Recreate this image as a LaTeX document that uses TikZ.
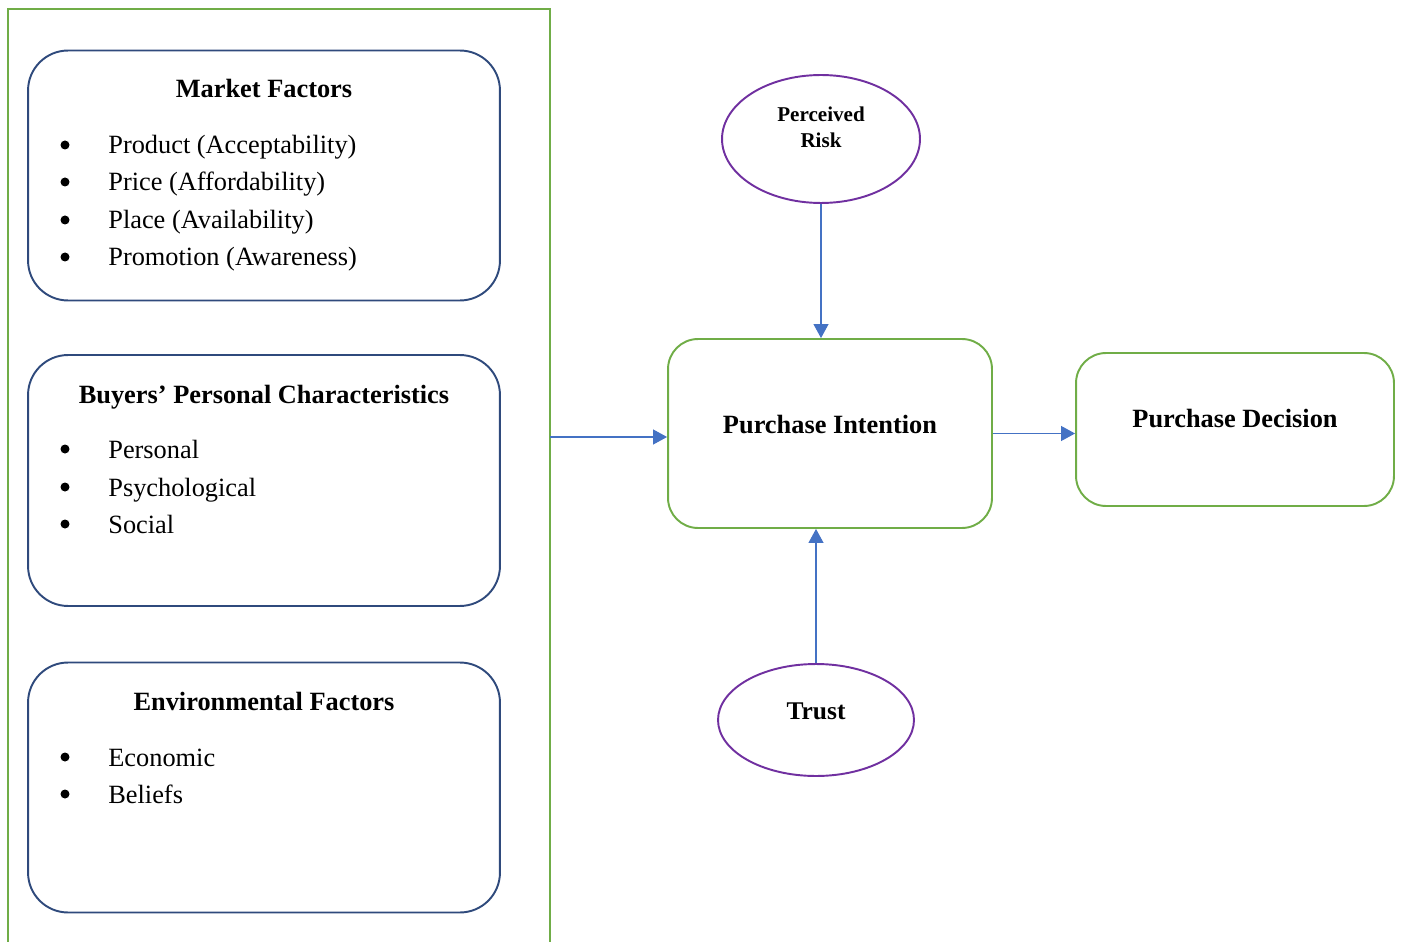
\documentclass[tikz,border=0pt]{standalone}
\usepackage{fontspec}
\setmainfont{Liberation Serif}
\usetikzlibrary{arrows.meta,shapes.geometric}

\definecolor{framegreen}{HTML}{70AD47}
\definecolor{boxnavy}{HTML}{2F4A7C}
\definecolor{riskpurple}{HTML}{7030A0}
\definecolor{linkblue}{HTML}{4472C4}

\begin{document}
\begin{tikzpicture}[
  x=0.02cm, y=-0.02cm,
  frame/.style={draw=framegreen, line width=1.1pt},
  factorbox/.style={rectangle, rounded corners=0.8cm, draw=boxnavy, line width=1.1pt,
    minimum width=9.44cm, minimum height=5cm, inner sep=0pt},
  mainbox/.style={rectangle, rounded corners=0.6cm, draw=framegreen, line width=1.1pt, inner sep=0pt},
  moderator/.style={ellipse, draw=riskpurple, line width=1.1pt, inner sep=0pt},
  boxtitle/.style={font=\fontsize{15}{18}\selectfont\bfseries, anchor=base, inner sep=0pt},
  bullet/.style={circle, fill=black, inner sep=0pt, minimum size=0.18cm},
  item/.style={font=\fontsize{15}{18}\selectfont, anchor=base west, inner sep=0pt},
  link/.style={draw=linkblue, line width=0.6pt, -{Triangle[length=2.8mm, width=3mm]}}
]
  \useasboundingbox (0,0) rectangle (1402,942);

  % Rahmen links
  \draw[frame] (8,942) -- (8,9) -- (550,9) -- (550,942);
  \coordinate (fout) at (550,437);

  % Faktoren
  \node[factorbox] (market) at (264,175.5) {};
  \node[boxtitle] (market-t) at (264,98) {Market Factors};
  \node[bullet] (m1b) at (65,145) {};
  \node[item]   (m1)  at (108,154) {Product (Acceptability)};
  \node[bullet] (m2b) at (65,182) {};
  \node[item]   (m2)  at (108,191) {Price (Affordability)};
  \node[bullet] (m3b) at (65,220) {};
  \node[item]   (m3)  at (108,229) {Place (Availability)};
  \node[bullet] (m4b) at (65,257) {};
  \node[item]   (m4)  at (108,266) {Promotion (Awareness)};

  \node[factorbox, minimum height=5.02cm] (buyers) at (264,480.5) {};
  \node[boxtitle] (buyers-t) at (264,403) {Buyers’ Personal Characteristics};
  \node[bullet] (b1b) at (65,449) {};
  \node[item]   (b1)  at (108,458) {Personal};
  \node[bullet] (b2b) at (65,487) {};
  \node[item]   (b2)  at (108,496) {Psychological};
  \node[bullet] (b3b) at (65,524) {};
  \node[item]   (b3)  at (108,533) {Social};

  \node[factorbox] (env) at (264,787.5) {};
  \node[boxtitle] (env-t) at (264,710) {Environmental Factors};
  \node[bullet] (e1b) at (65,757) {};
  \node[item]   (e1)  at (108,766) {Economic};
  \node[bullet] (e2b) at (65,794) {};
  \node[item]   (e2)  at (108,803) {Beliefs};

  % Intention, Entscheidung
  \node[mainbox, minimum width=6.48cm, minimum height=3.78cm] (pi) at (830,433.5) {};
  \node[boxtitle] (pi-t) at (830,433) {Purchase Intention};
  \node[mainbox, minimum width=6.36cm, minimum height=3.06cm] (pd) at (1235,429.5) {};
  \node[boxtitle] (pd-t) at (1235,427) {Purchase Decision};

  % Moderatoren
  \node[moderator, minimum width=3.96cm, minimum height=2.56cm] (risk) at (821,139) {};
  \node[boxtitle, font=\fontsize{12}{14}\selectfont\bfseries] (risk-t1) at (821,122) {Perceived};
  \node[boxtitle, font=\fontsize{12}{14}\selectfont\bfseries] (risk-t2) at (821,148) {Risk};
  \node[moderator, minimum width=3.92cm, minimum height=2.24cm] (trust) at (816,720) {};
  \node[boxtitle, font=\fontsize{14.5}{17}\selectfont\bfseries] (trust-t) at (816,719) {Trust};

  % Pfeile
  \draw[link] (fout) -- (fout -| pi.west);
  \draw[link] (pi.east) -- (pi.east -| pd.west);
  \draw[link] (risk.south) -- (risk.south |- pi.north);
  \draw[link] (trust.north) -- (trust.north |- pi.south);
\end{tikzpicture}
\end{document}
